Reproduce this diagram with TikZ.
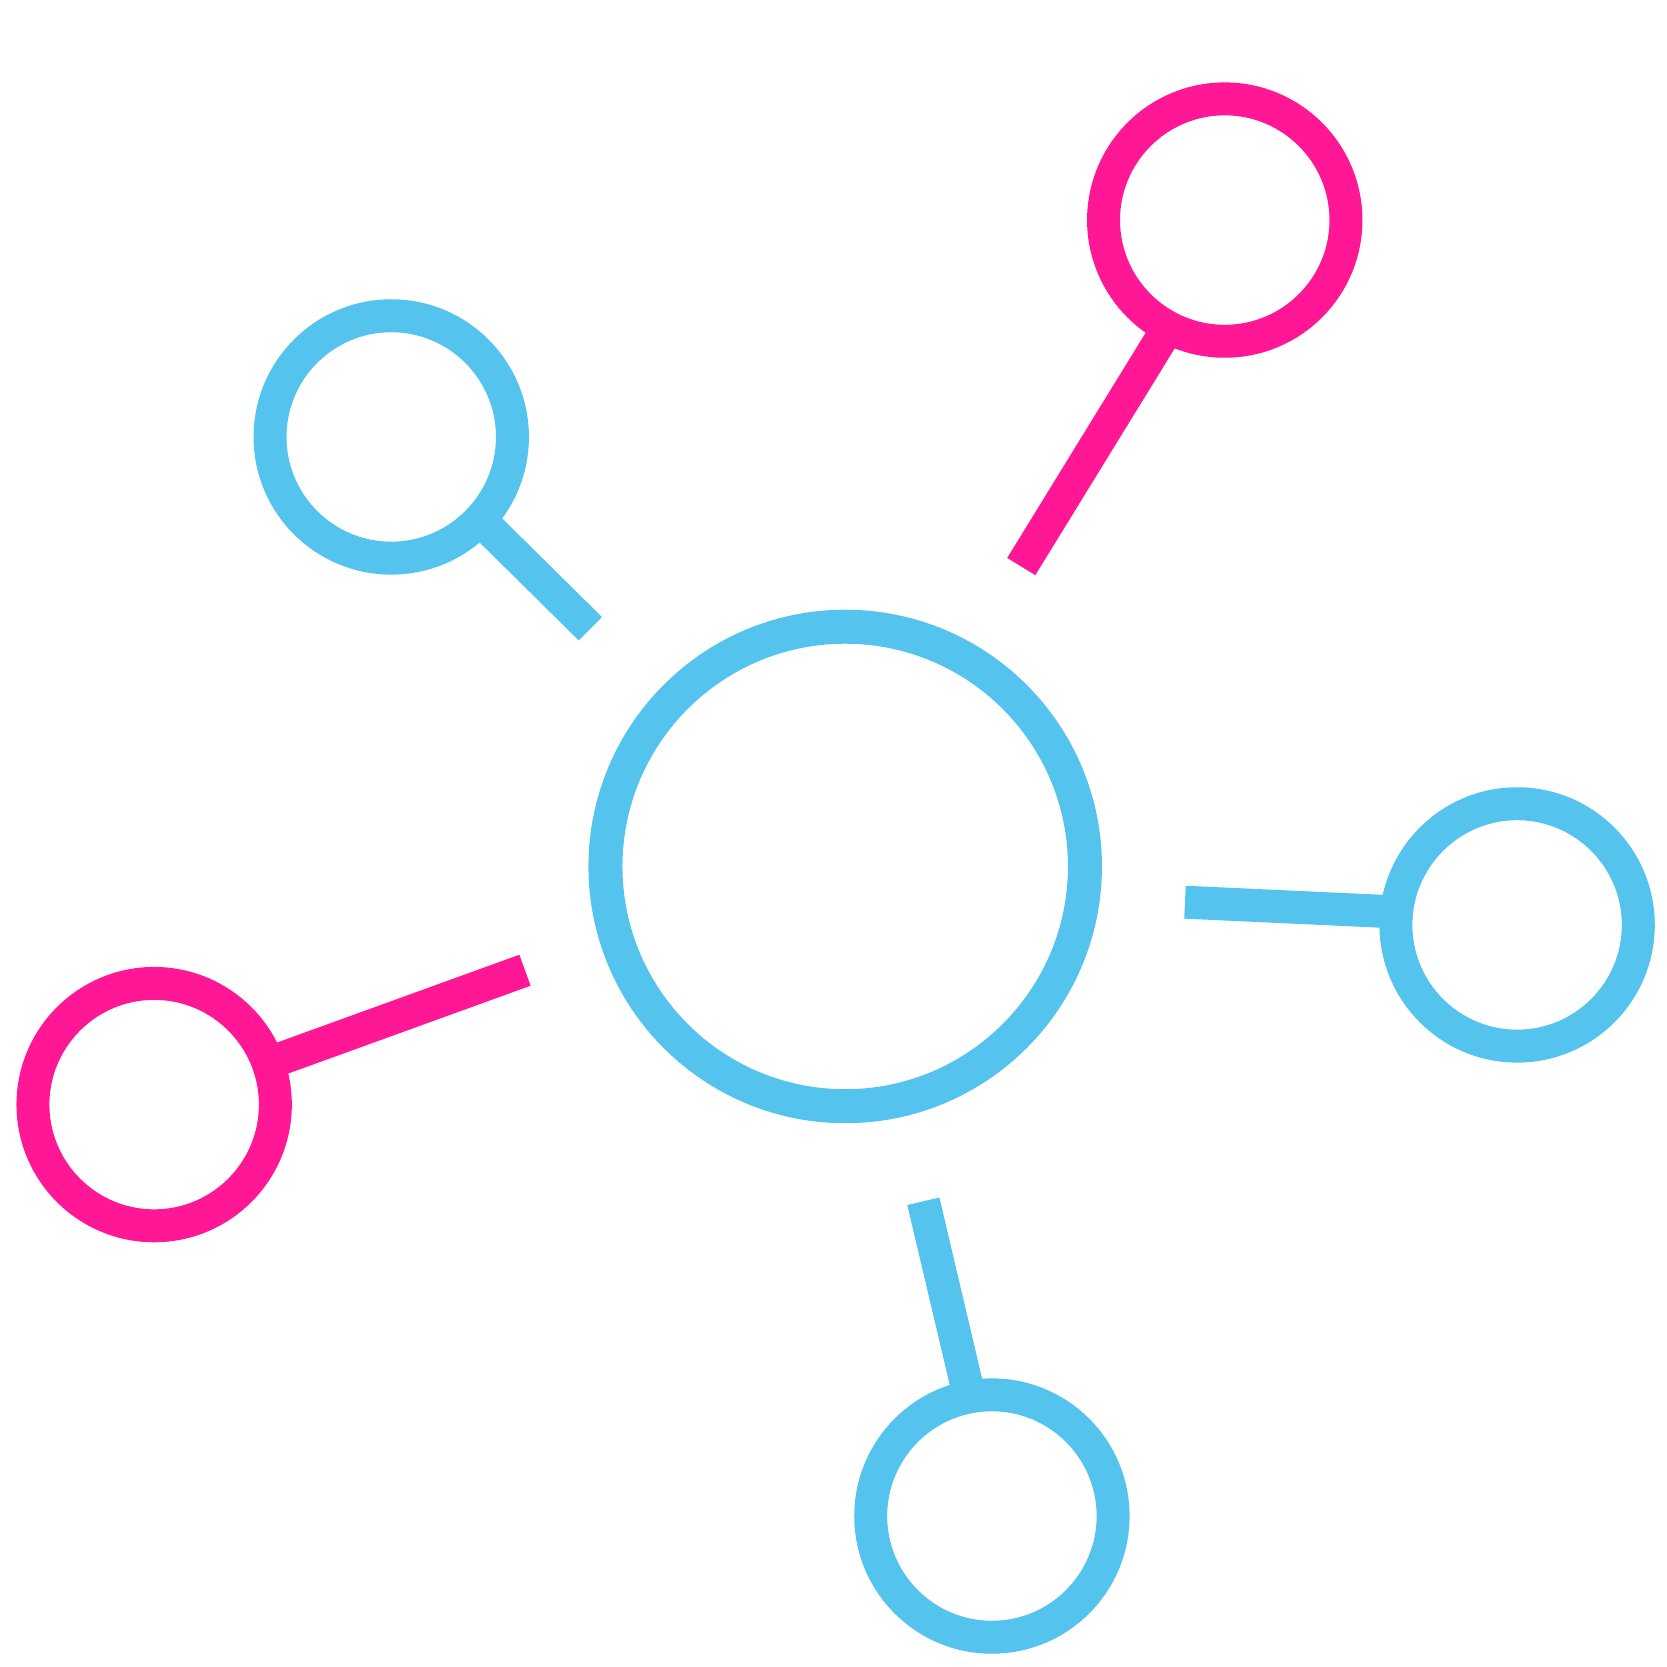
\documentclass[tikz,border=0pt]{standalone}
\definecolor{cblue}{RGB}{84,196,238}
\definecolor{cpink}{RGB}{255,23,149}
\begin{document}
\begin{tikzpicture}[x=1pt,y=-1pt,
  ring/.style={circle,draw=#1,line width=31pt,inner sep=0pt,outer sep=0pt,minimum size=228pt},
  link/.style={draw=#1,line width=31pt}]
\useasboundingbox (0,0) rectangle (1568,1568);
\node[ring=cblue,line width=32pt,minimum size=451pt] (hub) at (795,815) {};
\node[ring=cpink] (tr) at (1152,207) {};
\node[ring=cblue] (tl) at (368,411) {};
\node[ring=cblue] (rt) at (1427,870) {};
\node[ring=cpink] (lf) at (145,1039) {};
\node[ring=cblue] (bt) at (933,1426) {};
\coordinate (etr) at (960.6,532.9);
\coordinate (etl) at (555.3,591.4);
\coordinate (ert) at (1114.6,848.6);
\coordinate (elf) at (493.8,912.6);
\coordinate (ebt) at (868.5,1129.9);
\coordinate (jtr) at (1098.8,308.1);
\coordinate (jtl) at (451.4,488.7);
\coordinate (jrt) at (1313.8,857.8);
\coordinate (jbt) at (911.9,1313.9);
\draw[link=cpink] (etr) -- (jtr);
\draw[link=cblue] (etl) -- (jtl);
\draw[link=cblue] (ert) -- (jrt);
\draw[link=cpink] (elf) -- (lf);
\draw[link=cblue] (ebt) -- (jbt);
\end{tikzpicture}
\end{document}
